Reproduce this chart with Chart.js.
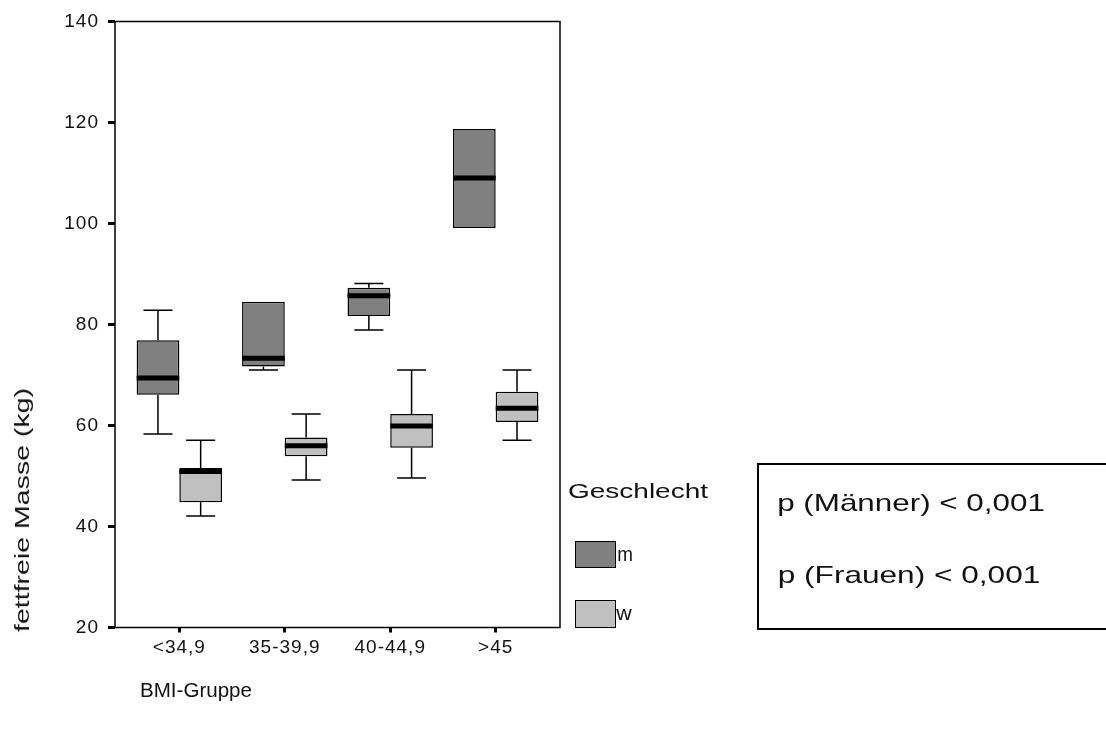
<!DOCTYPE html>
<html>
<head>
<meta charset="utf-8">
<script src="https://cdn.jsdelivr.net/npm/chart.js@4.4.1/dist/chart.umd.min.js"></script>
<style>
    html, body { margin: 0; padding: 0; background: #fff; }
    #wrap { position: relative; width: 1106px; height: 735px; overflow: hidden; }
    #c { position: absolute; left: 0; top: 0; }
    .txt {
        position: absolute; white-space: nowrap; line-height: 1;
        font-family: "Liberation Sans", Arial, sans-serif; color: #111;
        transform-origin: 50% 50%;
    }
    .swatch { position: absolute; box-sizing: border-box; border: 1.5px solid #000; }
    #pbox {
        position: absolute; left: 757px; top: 463px; width: 400px; height: 167px;
        box-sizing: border-box; border: 2px solid #000;
    }
</style>
</head>
<body>
<div id="wrap">
    <canvas id="c" width="1106" height="735"></canvas>
    <div class="txt" id="yTitle">fettfreie Masse (kg)</div>
    <div class="txt" id="xTitle">BMI-Gruppe</div>
    <div class="txt" id="legTitle">Geschlecht</div>
    <div class="swatch" id="swM"></div>
    <div class="swatch" id="swW"></div>
    <div class="txt" id="legM">m</div>
    <div class="txt" id="legW">w</div>
    <div id="pbox"></div>
    <div class="txt" id="p1">p (Männer) &lt; 0,001</div>
    <div class="txt" id="p2">p (Frauen) &lt; 0,001</div>
</div>
<script>
// BMI-Gruppen und Kennwerte der Boxplots (kg)
var categories = ['<34,9', '35-39,9', '40-44,9', '>45'];
var yTicks = [20, 40, 60, 80, 100, 120, 140];
var seriesNames = ['m', 'w'];

var mMin    = [58.3, 71.0, 78.9, 99.1];
var mQ1     = [66.1, 71.7, 81.7, 99.1];
var mMedian = [69.4, 73.3, 85.7, 109.0];
var mQ3     = [76.9, 84.5, 87.3, 118.7];
var mMax    = [82.8, 84.5, 88.1, 118.7];

var wMin    = [42.1, 49.2, 49.6, 57.1];
var wQ1     = [44.8, 53.9, 55.6, 60.7];
var wMedian = [50.9, 56.0, 59.9, 63.4];
var wQ3     = [51.6, 57.6, 62.3, 66.7];
var wMax    = [57.1, 62.3, 71.0, 71.0];

var colM = '#808080';
var colW = '#c0c0c0';

var stats = [
    { min: mMin, med: mMedian, max: mMax },
    { min: wMin, med: wMedian, max: wMax }
];

function boxData(q1, q3) {
    return categories.map(function(c, i) { return { x: i, y: [q1[i], q3[i]] }; });
}

// Whisker, Median und Rahmen
var boxExtras = {
    id: 'boxExtras',
    beforeDraw: function(chart) {
        chart.ctx.letterSpacing = '1px';
    },
    afterDatasetsDraw: function(chart) {
        var ctx = chart.ctx;
        var ys = chart.scales.y;
        ctx.save();
        ctx.strokeStyle = '#000';
        stats.forEach(function(s, d) {
            var meta = chart.getDatasetMeta(d);
            meta.data.forEach(function(el, i) {
                var x = el.x, w = el.width;
                var yMax = ys.getPixelForValue(s.max[i]);
                var yMin = ys.getPixelForValue(s.min[i]);
                var yTop = Math.min(el.y, el.base);
                var yBot = Math.max(el.y, el.base);
                var cap = w * 0.34;
                ctx.lineWidth = 1.5;
                ctx.beginPath();
                if (yMax < yTop - 0.5) {
                    ctx.moveTo(x, yTop); ctx.lineTo(x, yMax);
                    ctx.moveTo(x - cap, yMax); ctx.lineTo(x + cap, yMax);
                }
                if (yMin > yBot + 0.5) {
                    ctx.moveTo(x, yBot); ctx.lineTo(x, yMin);
                    ctx.moveTo(x - cap, yMin); ctx.lineTo(x + cap, yMin);
                }
                ctx.stroke();
                var yMed = ys.getPixelForValue(s.med[i]);
                ctx.lineWidth = 5;
                ctx.beginPath();
                ctx.moveTo(x - w / 2, yMed); ctx.lineTo(x + w / 2, yMed);
                ctx.stroke();
            });
        });
        var a = chart.chartArea;
        ctx.lineWidth = 1.5;
        ctx.strokeRect(a.left, a.top, a.right - a.left, a.bottom - a.top);
        ctx.restore();
    }
};

var tickFont = { family: '"Liberation Sans", Arial, sans-serif', size: 19 };

new Chart(document.getElementById('c'), {
    type: 'bar',
    data: {
        datasets: [
            { label: seriesNames[0], data: boxData(mQ1, mQ3), backgroundColor: colM },
            { label: seriesNames[1], data: boxData(wQ1, wQ3), backgroundColor: colW }
        ]
    },
    options: {
        responsive: false,
        animation: false,
        layout: { padding: { left: 0, top: 21.5, right: 546, bottom: 0 } },
        datasets: {
            bar: {
                borderColor: '#000',
                borderWidth: 1.5,
                borderSkipped: false,
                categoryPercentage: 0.81,
                barPercentage: 1.0
            }
        },
        plugins: {
            legend: { display: false },
            tooltip: { enabled: false }
        },
        scales: {
            x: {
                type: 'linear',
                offset: false,
                min: -0.61,
                max: 3.61,
                afterBuildTicks: function(scale) {
                    scale.ticks = categories.map(function(c, i) { return { value: i }; });
                },
                afterFit: function(scale) { scale.height = 107.5; },
                border: { display: false },
                grid: { offset: false, drawOnChartArea: false, drawTicks: true, tickLength: 5, tickWidth: 3, tickColor: '#000' },
                ticks: {
                    color: '#111',
                    font: tickFont,
                    padding: 4,
                    autoSkip: false,
                    maxRotation: 0,
                    callback: function(v) { return categories[v]; }
                }
            },
            y: {
                min: yTicks[0],
                max: yTicks[yTicks.length - 1],
                afterBuildTicks: function(scale) {
                    scale.ticks = yTicks.map(function(v) { return { value: v }; });
                },
                afterFit: function(scale) { scale.width = 115; },
                border: { display: false },
                grid: { drawOnChartArea: false, drawTicks: true, tickLength: 7, tickWidth: 3, tickColor: '#000' },
                ticks: { color: '#111', font: tickFont, padding: 9 }
            }
        }
    },
    plugins: [boxExtras]
});

// Beschriftungen ausserhalb der Grafik
function place(id, cx, cy, size, targetW, rotate) {
    var el = document.getElementById(id);
    el.style.fontSize = size + 'px';
    el.style.left = cx + 'px';
    el.style.top = cy + 'px';
    var s = targetW ? targetW / el.offsetWidth : 1;
    el.style.transform = 'translate(-50%, -50%)' + (rotate ? ' rotate(-90deg)' : '') + ' scaleX(' + s + ')';
}

function box(id, l, t, w, h, col) {
    var el = document.getElementById(id);
    el.style.left = l + 'px'; el.style.top = t + 'px';
    el.style.width = w + 'px'; el.style.height = h + 'px';
    el.style.background = col;
}

place('yTitle', 22, 510, 20, 244, true);
place('xTitle', 196, 690, 20, 112);
place('legTitle', 638, 490, 21, 140);
place('legM', 625, 554, 20, 16);
place('legW', 624, 613, 20, 15);
place('p1', 911, 503, 24, 268);
place('p2', 909, 575, 24, 262);
box('swM', 575, 541, 41, 27, colM);
box('swW', 575, 600, 41, 28, colW);
</script>
</body>
</html>
